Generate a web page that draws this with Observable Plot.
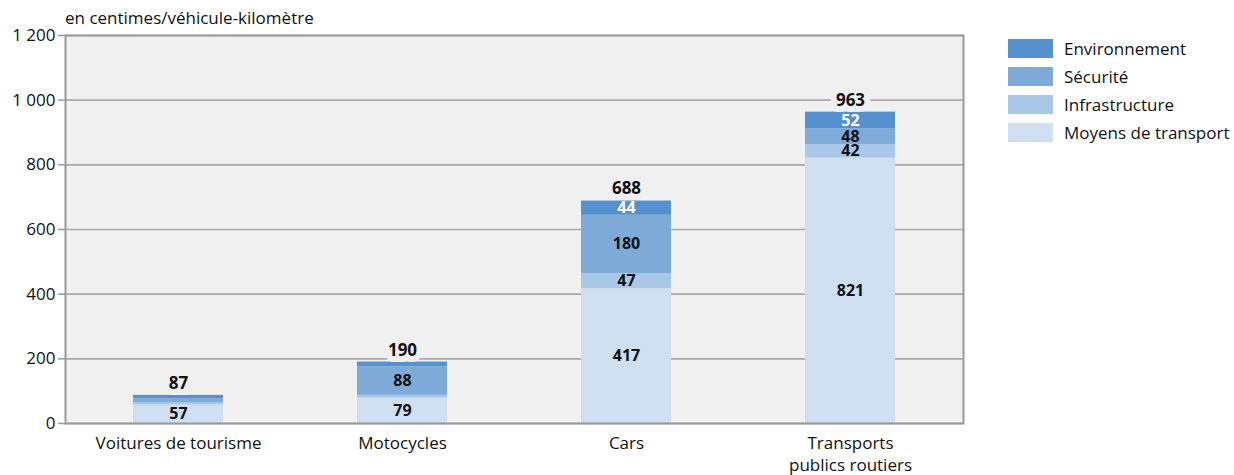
<!DOCTYPE html>
<html>
<head>
<meta charset="utf-8">
<script src="https://cdn.jsdelivr.net/npm/d3@7"></script>
<script src="https://cdn.jsdelivr.net/npm/@observablehq/plot@0.6"></script>
<style>
  html, body { margin: 0; padding: 0; background: #fff; }
  #wrap { position: relative; width: 1234px; height: 475px; font-family: "Open Sans", sans-serif; color: #111; }
  #unit { position: absolute; left: 65px; top: 6px; font-size: 17px; }
  #legend { position: absolute; left: 1008px; top: 34px; font-size: 17px; }
  .row { display: flex; align-items: center; height: 28px; }
  .sw { width: 45px; height: 19px; margin-right: 11px; }
</style>
</head>
<body>
<div id="wrap">
  <div id="chart"></div>
  <div id="unit">en centimes/véhicule-kilomètre</div>
  <div id="legend"></div>
</div>
<script>
const categories = ["Voitures de tourisme", "Motocycles", "Cars", "Transports\npublics routiers"];
const series = ["Moyens de transport", "Infrastructure", "Sécurité", "Environnement"];
const moyens = [57, 79, 417, 821];
const infrastructure = [8, 8, 47, 42];
const securite = [12, 88, 180, 48];
const environnement = [10, 15, 44, 52];
const totals = [87, 190, 688, 963];
const yTicks = [0, 200, 400, 600, 800, 1000, 1200];
const colors = ["#cddff0", "#a9c8e8", "#7eaad8", "#5590cf"];
const legendOrder = ["Environnement", "Sécurité", "Infrastructure", "Moyens de transport"];

const valuesBySeries = [moyens, infrastructure, securite, environnement];
const data = [];
categories.forEach((c, i) => {
  series.forEach((s, j) => data.push({category: c, series: s, value: valuesBySeries[j][i]}));
});
const totalData = categories.map((c, i) => ({category: c, total: totals[i]}));

const fmt = d => d3.format(",")(d).replace(/,/g, " ");
const labelMin = 40;

const chart = Plot.plot({
  width: 1234,
  height: 475,
  marginLeft: 65,
  marginRight: 271,
  marginTop: 35,
  marginBottom: 52,
  style: {fontFamily: "Open Sans, sans-serif", fontSize: "17px", color: "#111", background: "transparent"},
  x: {domain: categories, label: null, paddingInner: 0.6, paddingOuter: 0.3},
  y: {domain: [0, 1200], label: null},
  color: {domain: series, range: colors},
  marks: [
    Plot.frame({fill: "#f0f0f0", stroke: null}),
    Plot.gridY(yTicks, {stroke: "#a8a8a8", strokeOpacity: 1, strokeWidth: 1.6}),
    Plot.barY(data, Plot.stackY({x: "category", y: "value", z: "series", fill: "series", order: series})),
    Plot.text(data, Plot.stackY({
      x: "category", y: "value", z: "series", order: series,
      text: d => (d.value >= labelMin && d.series !== "Environnement") ? String(d.value) : "",
      fill: "#111", fontWeight: "bold", fontSize: 16
    })),
    Plot.text(data, Plot.stackY({
      x: "category", y: "value", z: "series", order: series,
      text: d => (d.value >= labelMin && d.series === "Environnement") ? String(d.value) : "",
      fill: "white", fontWeight: "bold", fontSize: 16
    })),
    Plot.text(totalData, {
      x: "category", y: "total", text: d => String(d.total), dy: -12,
      fontWeight: "bold", fontSize: 17, fill: "#111",
      stroke: "#f0f0f0", strokeWidth: 12, paintOrder: "stroke"
    }),
    Plot.axisY({ticks: yTicks, tickFormat: fmt, tickSize: 7, tickPadding: 3, stroke: "#999", strokeWidth: 1.5, fontSize: 17, label: null}),
    Plot.axisX({tickSize: 0, tickPadding: 10, fontSize: 17, lineHeight: 1.28, label: null}),
    Plot.frame({stroke: "#999", strokeWidth: 2})
  ]
});
document.getElementById("chart").appendChild(chart);

const legend = document.getElementById("legend");
legendOrder.forEach(s => {
  const row = document.createElement("div");
  row.className = "row";
  const sw = document.createElement("div");
  sw.className = "sw";
  sw.style.background = colors[series.indexOf(s)];
  const t = document.createElement("span");
  t.textContent = s;
  row.appendChild(sw);
  row.appendChild(t);
  legend.appendChild(row);
});
</script>
</body>
</html>
